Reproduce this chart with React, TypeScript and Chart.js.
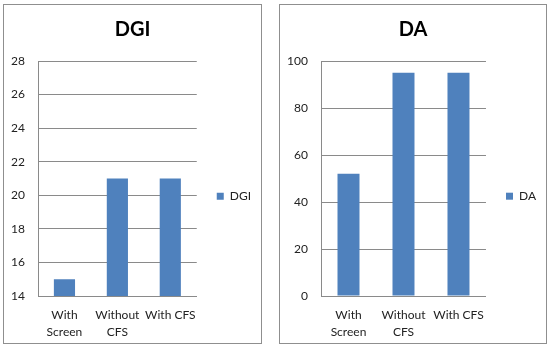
import React, { useEffect, useRef } from "react";
import { Chart, registerables } from "chart.js";

Chart.register(...registerables);

const categories: (string | string[])[] = [["With", "Screen"], ["Without", "CFS"], "With CFS"];
const dgiValues = [15, 21, 21];
const daValues = [52, 95, 95];
const dgiTicks = { min: 14, max: 28, step: 2 };
const daTicks = { min: 0, max: 100, step: 20 };

const FONT = "Lato, 'Open Sans', sans-serif";
const BAR = "#4F81BD";
const GRID = "#8a8a8a";

type PanelProps = {
  title: string;
  values: number[];
  ticks: { min: number; max: number; step: number };
  left: number;
  width: number;
  yWidth: number;
};

function Panel({ title, values, ticks, left, width, yWidth }: PanelProps) {
  const ref = useRef<HTMLCanvasElement | null>(null);
  useEffect(() => {
    if (!ref.current) return;
    const chart = new Chart(ref.current, {
      type: "bar",
      data: {
        labels: categories,
        datasets: [
          {
            label: title,
            data: values,
            backgroundColor: BAR,
            borderWidth: 0,
            barPercentage: 0.4,
            categoryPercentage: 1,
          },
        ],
      },
      options: {
        responsive: false,
        animation: false,
        layout: { padding: 0 },
        plugins: {
          title: {
            display: true,
            text: title,
            color: "#000",
            font: { family: FONT, size: 20, weight: "bold", lineHeight: 1.2 },
            padding: { top: 13, bottom: 19 },
          },
          legend: {
            position: "right",
            align: "center",
            title: {
              display: true,
              text: "",
              font: { family: FONT, size: 12, lineHeight: 1.2 },
              padding: { top: 15, bottom: 15 },
            },
            labels: {
              boxWidth: 7,
              boxHeight: 7,
              padding: 20,
              color: "#222",
              font: { family: FONT, size: 12 },
            },
          },
          tooltip: { enabled: false },
        },
        scales: {
          x: {
            grid: { display: false, drawTicks: false },
            border: { display: true, color: GRID, width: 1 },
            ticks: {
              color: "#222",
              font: { family: FONT, size: 12, lineHeight: 1.4 },
              padding: 11,
              maxRotation: 0,
              autoSkip: false,
            },
            afterFit: (s: any) => {
              s.height = 47;
            },
          },
          y: {
            min: ticks.min,
            max: ticks.max,
            grid: { color: GRID, drawTicks: false, lineWidth: 1 },
            border: { display: true, color: GRID, width: 1 },
            ticks: {
              stepSize: ticks.step,
              color: "#222",
              font: { family: FONT, size: 12 },
              padding: 13,
            },
            afterFit: (s: any) => {
              s.width = yWidth;
            },
          },
        },
      },
    });
    return () => chart.destroy();
  }, []);
  return (
    <div
      style={{
        position: "absolute",
        left,
        top: 4,
        width,
        height: 338,
        border: "1px solid #8f8f8f",
        background: "#fff",
      }}
    >
      <canvas ref={ref} width={width} height={338} style={{ display: "block" }} />
    </div>
  );
}

export default function App() {
  return (
    <div
      style={{
        position: "fixed",
        left: 0,
        top: 0,
        width: 550,
        height: 350,
        background: "#fff",
      }}
    >
      <Panel title="DGI" values={dgiValues} ticks={dgiTicks} left={3} width={257} yWidth={34} />
      <Panel title="DA" values={daValues} ticks={daTicks} left={279} width={266} yWidth={41} />
    </div>
  );
}
